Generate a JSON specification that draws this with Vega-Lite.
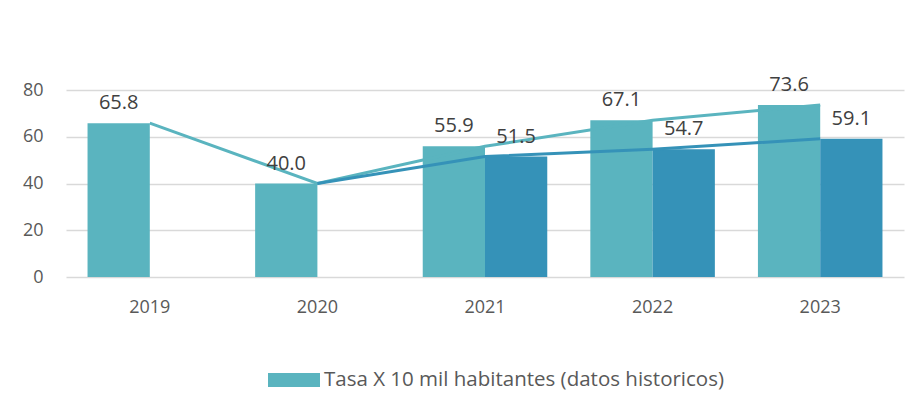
{
  "$schema": "https://vega.github.io/schema/vega-lite/v6.json",
  "autosize": {"type": "none"},
  "width": 838,
  "height": 187,
  "padding": {"left": 66, "top": 90, "right": 20, "bottom": 143},
  "background": "white",
  "config": {
    "view": {"stroke": null},
    "font": "Open Sans",
    "axis": {"labelFont": "Open Sans", "labelColor": "#595959", "labelFontSize": 16}
  },
  "datasets": {
    "bars": [
      {"year": "2019", "serie": "Tasa X 10 mil habitantes (datos historicos)", "value": 65.8},
      {"year": "2020", "serie": "Tasa X 10 mil habitantes (datos historicos)", "value": 40.0},
      {"year": "2021", "serie": "Tasa X 10 mil habitantes (datos historicos)", "value": 55.9},
      {"year": "2022", "serie": "Tasa X 10 mil habitantes (datos historicos)", "value": 67.1},
      {"year": "2023", "serie": "Tasa X 10 mil habitantes (datos historicos)", "value": 73.6},
      {"year": "2021", "serie": "Tasa X 10 mil habitantes (proyección)", "value": 51.5},
      {"year": "2022", "serie": "Tasa X 10 mil habitantes (proyección)", "value": 54.7},
      {"year": "2023", "serie": "Tasa X 10 mil habitantes (proyección)", "value": 59.1}
    ],
    "lines": [
      {"year": "2019", "serie": "Tasa X 10 mil habitantes (datos historicos)", "value": 65.8},
      {"year": "2020", "serie": "Tasa X 10 mil habitantes (datos historicos)", "value": 40.0},
      {"year": "2021", "serie": "Tasa X 10 mil habitantes (datos historicos)", "value": 55.9},
      {"year": "2022", "serie": "Tasa X 10 mil habitantes (datos historicos)", "value": 67.1},
      {"year": "2023", "serie": "Tasa X 10 mil habitantes (datos historicos)", "value": 73.6},
      {"year": "2020", "serie": "Tasa X 10 mil habitantes (proyección)", "value": 40.0},
      {"year": "2021", "serie": "Tasa X 10 mil habitantes (proyección)", "value": 51.5},
      {"year": "2022", "serie": "Tasa X 10 mil habitantes (proyección)", "value": 54.7},
      {"year": "2023", "serie": "Tasa X 10 mil habitantes (proyección)", "value": 59.1}
    ]
  },
  "encoding": {
    "x": {
      "field": "year", "type": "nominal",
      "scale": {"domain": ["2019", "2020", "2021", "2022", "2023"], "paddingInner": 0.257, "paddingOuter": 0.1285},
      "axis": {"title": null, "labelAngle": 0, "ticks": false, "domain": false, "labelPadding": 21, "labelFontSize": 18}
    },
    "y": {
      "field": "value", "type": "quantitative",
      "scale": {"domain": [0, 80], "nice": false},
      "axis": {"title": null, "values": [0, 20, 40, 60, 80], "ticks": false, "domain": false, "labelPadding": 23, "labelFontSize": 18, "gridColor": "#d9d9d9", "gridWidth": 1.5}
    }
  },
  "layer": [
    {
      "data": {"name": "bars"},
      "mark": {"type": "bar", "width": {"band": 1}},
      "encoding": {
        "xOffset": {"field": "serie", "type": "nominal", "scale": {"domain": ["Tasa X 10 mil habitantes (datos historicos)", "Tasa X 10 mil habitantes (proyección)"], "paddingInner": 0, "paddingOuter": 0}},
        "color": {
          "field": "serie", "type": "nominal",
          "scale": {"domain": ["Tasa X 10 mil habitantes (datos historicos)", "Tasa X 10 mil habitantes (proyección)"], "range": ["#5ab4bf", "#3592b8"]},
          "legend": {
            "values": ["Tasa X 10 mil habitantes (datos historicos)"],
            "title": null,
            "orient": "none",
            "legendX": 202,
            "legendY": 264,
            "symbolType": "M-1,-0.27L1,-0.27L1,0.27L-1,0.27Z",
            "symbolSize": 2704,
            "symbolStrokeWidth": 0,
            "labelFontSize": 20.5,
            "labelLimit": 0,
            "labelColor": "#595959",
            "labelFont": "Open Sans",
            "labelOffset": 4
          }
        }
      }
    },
    {
      "data": {"name": "lines"},
      "mark": {"type": "line", "strokeWidth": 3},
      "encoding": {
        "color": {"field": "serie", "type": "nominal", "legend": null},
        "detail": {"field": "serie"}
      }
    },
    {
      "data": {"name": "bars"},
      "mark": {"type": "text", "fontSize": 20, "color": "#404040", "baseline": "alphabetic", "dy": -14},
      "encoding": {
        "xOffset": {"field": "serie", "type": "nominal"},
        "text": {"field": "value", "type": "quantitative", "format": ".1f"}
      }
    }
  ]
}
